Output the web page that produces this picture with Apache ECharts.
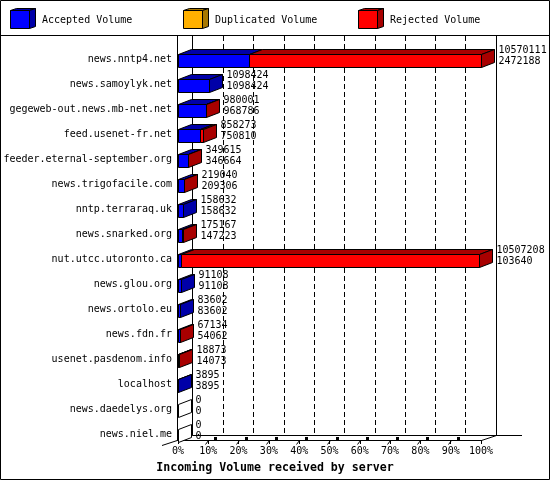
<!DOCTYPE html>
<html>
<head>
<meta charset="utf-8">
<script src="https://cdn.jsdelivr.net/npm/echarts@6/dist/echarts.min.js"></script>
<style>
  html, body { margin: 0; padding: 0; background: #fff; }
  #main { width: 550px; height: 480px; }
</style>
</head>
<body>
<div id="main"></div>
<script>
// incoming volume per peer
const servers = [
  'news.nntp4.net', 'news.samoylyk.net', 'gegeweb-out.news.mb-net.net',
  'feed.usenet-fr.net', 'feeder.eternal-september.org', 'news.trigofacile.com',
  'nntp.terraraq.uk', 'news.snarked.org', 'nut.utcc.utoronto.ca',
  'news.glou.org', 'news.ortolo.eu', 'news.fdn.fr',
  'usenet.pasdenom.info', 'localhost', 'news.daedelys.org', 'news.niel.me'
];
const totalVolume = [
  10570111, 1098424, 980001, 858273, 349615, 219040, 158632, 175167,
  10507208, 91108, 83602, 67134, 18873, 3895, 0, 0
];
const acceptedVolume = [
  2472188, 1098424, 968786, 750810, 346664, 209306, 158632, 147223,
  103640, 91108, 83602, 54062, 14073, 3895, 0, 0
];
const duplicatedVolume = [0, 0, 0, 0, 0, 0, 0, 0, 0, 0, 0, 0, 0, 0, 0, 0];
const legendNames = ['Accepted Volume', 'Duplicated Volume', 'Rejected Volume'];

const FONT = 'DejaVu Sans Mono';
const FRONT = ['#0000ff', '#ffb000', '#ff0000'];
const SHADE = ['#0000a8', '#a87800', '#a80000'];
const DX = 13, DY = -5;          // bar depth
const WX = 15, WY = -5;          // wall depth
const GL = 178, GR = 69, GT = 47, GB = 33;
const FLOOR = 440;

const maxTotal = Math.max(...totalVolume);
const pct = v => v / maxTotal * 100;

const rows = servers.map((s, i) => {
  const rej = totalVolume[i] - acceptedVolume[i] - duplicatedVolume[i];
  return [i, pct(acceptedVolume[i]), pct(duplicatedVolume[i]), pct(rej),
          totalVolume[i], acceptedVolume[i]];
});

const px = v => Math.round(v) + 0.5;

function renderBar(params, api) {
  const row = api.value(0);
  const cy = api.coord([0, row])[1];
  const top = px(cy - 6), bot = px(cy + 7);
  const children = [];
  let start = 0, last = -1;
  [api.value(1), api.value(2), api.value(3)].forEach((v, k) => {
    if (v <= 0) return;
    const x1 = px(api.coord([start, row])[0]);
    const x2 = px(api.coord([start + v, row])[0]);
    children.push({
      type: 'rect', shape: { x: x1, y: top, width: x2 - x1, height: bot - top },
      style: { fill: FRONT[k], stroke: '#000', lineWidth: 1 }
    });
    children.push({
      type: 'polygon',
      shape: { points: [[x1, top], [x1 + DX, top + DY], [x2 + DX, top + DY], [x2, top]] },
      style: { fill: SHADE[k], stroke: '#000', lineWidth: 1 }
    });
    start += v; last = k;
  });
  const xe = px(api.coord([start, row])[0]);
  children.push({
    type: 'polygon',
    shape: { points: [[xe, top], [xe + DX, top + DY], [xe + DX, bot + DY], [xe, bot]] },
    style: { fill: last >= 0 ? SHADE[last] : '#fff', stroke: '#000', lineWidth: 1 }
  });
  const tx = xe + DX + 4;
  [[api.value(4), cy - 9], [api.value(5), cy + 2]].forEach(([t, y]) => {
    children.push({
      type: 'text',
      style: { text: String(t), x: tx, y: y, verticalAlign: 'middle',
               font: '10px ' + FONT, fill: '#000' }
    });
  });
  return { type: 'group', children };
}

// legend cubes and frame
const legendX = [10, 183, 358];
const graphics = [
  { type: 'rect', z: 100, shape: { x: 0.5, y: 0.5, width: 549, height: 479 },
    style: { fill: 'none', stroke: '#000', lineWidth: 1 } },
  { type: 'line', z: 100, shape: { x1: 0, y1: 35.5, x2: 550, y2: 35.5 },
    style: { stroke: '#000', lineWidth: 1 } },
  // front wall edge
  { type: 'line', z: 1, shape: { x1: GL - 0.5, y1: 36, x2: GL - 0.5, y2: FLOOR + 0.5 },
    style: { stroke: '#000', lineWidth: 1 } },
  // back wall edges and floor
  { type: 'line', z: 1, shape: { x1: GL + WX - 0.5, y1: 36, x2: GL + WX - 0.5, y2: FLOOR + WY + 0.5 },
    style: { stroke: '#000', lineWidth: 1 } },
  { type: 'line', z: 1, shape: { x1: 550 - GR + WX + 0.5, y1: 36, x2: 550 - GR + WX + 0.5, y2: FLOOR + WY + 0.5 },
    style: { stroke: '#000', lineWidth: 1 } },
  { type: 'line', z: 1, shape: { x1: GL + WX - 0.5, y1: FLOOR + WY + 0.5, x2: 522, y2: FLOOR + WY + 0.5 },
    style: { stroke: '#000', lineWidth: 1 } },
  { type: 'line', z: 1, shape: { x1: GL - 16, x2: GL + WX - 0.5, y1: FLOOR + 5.5, y2: FLOOR + WY + 0.5 },
    style: { stroke: '#000', lineWidth: 1 } },
  { type: 'line', z: 1, shape: { x1: 550 - GR + 0.5, x2: 550 - GR + WX + 0.5, y1: FLOOR + 0.5, y2: FLOOR + WY + 0.5 },
    style: { stroke: '#000', lineWidth: 1 } }
];
// little floor marks next to the inner ticks
const step = (550 - GR - GL) / 10;
for (let i = 1; i < 10; i++) {
  const x = Math.round(GL + i * step);
  graphics.push(
    { type: 'line', z: 1, shape: { x1: x - 2.5, y1: FLOOR + 4.5, x2: x + 0.5, y2: FLOOR + 0.5 },
      style: { stroke: '#000', lineWidth: 1 } },
    { type: 'rect', z: 1, shape: { x: x + 6, y: FLOOR - 3, width: 3, height: 3 },
      style: { fill: '#000' } }
  );
}
legendNames.forEach((name, k) => {
  const x = legendX[k] + 0.5, y = 10.5, w = 19, h = 18, d = 6, e = -2;
  graphics.push(
    { type: 'polygon', z: 100, shape: { points: [[x, y], [x + d, y + e], [x + w + d, y + e], [x + w, y]] },
      style: { fill: SHADE[k], stroke: '#000', lineWidth: 1 } },
    { type: 'polygon', z: 100, shape: { points: [[x + w, y], [x + w + d, y + e], [x + w + d, y + h + e], [x + w, y + h]] },
      style: { fill: SHADE[k], stroke: '#000', lineWidth: 1 } },
    { type: 'rect', z: 100, shape: { x: x, y: y, width: w, height: h },
      style: { fill: FRONT[k], stroke: '#000', lineWidth: 1 } },
    { type: 'text', z: 100, style: { text: name, x: legendX[k] + 32, y: 20, verticalAlign: 'middle',
      font: '10px ' + FONT, fill: '#000' } }
  );
});

const chart = echarts.init(document.getElementById('main'), null, { renderer: 'canvas' });
chart.setOption({
  animation: false,
  backgroundColor: '#fff',
  title: {
    text: 'Incoming Volume received by server',
    left: 'center', top: 457,
    textStyle: { fontFamily: FONT, fontWeight: 'bold', fontSize: 11.6, color: '#000' }
  },
  grid: [
    { left: GL, right: GR, top: GT, bottom: GB },
    { left: GL + WX, right: GR - WX, top: 36, bottom: 480 - FLOOR - WY }
  ],
  xAxis: [
    {
      type: 'value', gridIndex: 0, min: 0, max: 100, interval: 10, offset: -(480 - GB - FLOOR),
      axisLine: { show: true, lineStyle: { color: '#000', width: 1 } },
      axisTick: { show: true, length: 4, lineStyle: { color: '#000' } },
      axisLabel: { formatter: '{value}%', margin: 6, fontFamily: FONT, fontSize: 10, color: '#000' },
      splitLine: { show: false }
    },
    {
      type: 'value', gridIndex: 1, min: 0, max: 100, interval: 10,
      axisLine: { show: false }, axisTick: { show: false }, axisLabel: { show: false },
      splitLine: { show: true, showMinLine: false, showMaxLine: false,
                   lineStyle: { color: '#000', width: 1, type: [5, 3] } }
    }
  ],
  yAxis: [
    {
      type: 'category', gridIndex: 0, data: servers, inverse: true,
      axisLine: { show: false }, axisTick: { show: false },
      axisLabel: { margin: 6, fontFamily: FONT, fontSize: 10, color: '#000' }
    },
    { type: 'value', gridIndex: 1, show: false }
  ],
  series: [{
    type: 'custom',
    xAxisIndex: 0, yAxisIndex: 0,
    renderItem: renderBar,
    encode: { x: [1, 2, 3], y: 0 },
    data: rows,
    clip: false,
    z: 5
  }],
  graphic: graphics
});
</script>
</body>
</html>
